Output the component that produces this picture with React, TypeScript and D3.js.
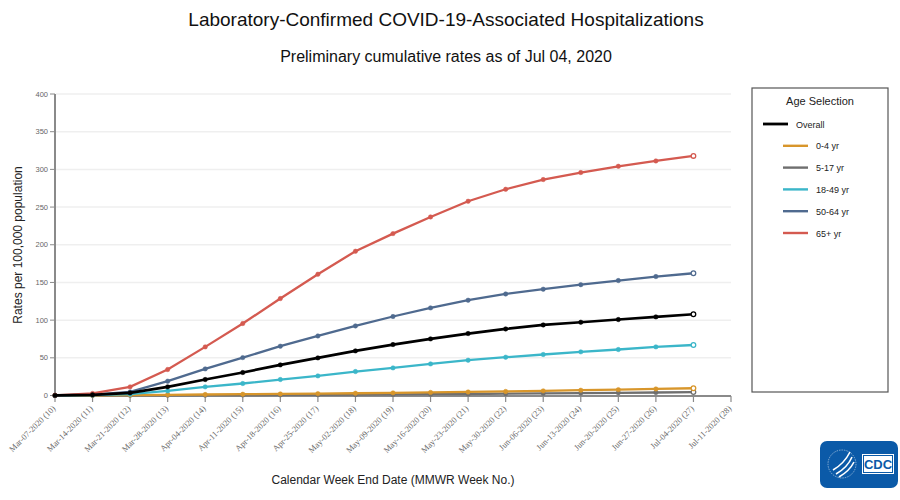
import React from "react";
import * as d3 from "d3";

const weekLabels = [
  "Mar-07-2020 (10)", "Mar-14-2020 (11)", "Mar-21-2020 (12)", "Mar-28-2020 (13)",
  "Apr-04-2020 (14)", "Apr-11-2020 (15)", "Apr-18-2020 (16)", "Apr-25-2020 (17)",
  "May-02-2020 (18)", "May-09-2020 (19)", "May-16-2020 (20)", "May-23-2020 (21)",
  "May-30-2020 (22)", "Jun-06-2020 (23)", "Jun-13-2020 (24)", "Jun-20-2020 (25)",
  "Jun-27-2020 (26)", "Jul-04-2020 (27)", "Jul-11-2020 (28)",
];

const overall = [0.1, 0.9, 3.5, 11.5, 21.2, 30.5, 40.6, 49.9, 59.2, 67.6, 75.1, 82.2, 88.3, 93.6, 97.2, 100.8, 104.3, 107.8];
const age0to4 = [0.0, 0.2, 0.5, 0.9, 1.3, 1.7, 2.1, 2.5, 3.0, 3.5, 4.1, 4.7, 5.4, 6.2, 7.0, 7.8, 8.7, 9.6];
const age5to17 = [0.0, 0.1, 0.2, 0.3, 0.4, 0.6, 0.8, 1.0, 1.2, 1.4, 1.7, 2.0, 2.4, 2.8, 3.2, 3.6, 4.0, 4.5];
const age18to49 = [0.0, 0.5, 1.7, 6.1, 11.5, 15.9, 21.2, 26.0, 31.8, 36.6, 41.9, 46.8, 50.8, 54.4, 57.9, 61.0, 64.5, 67.0];
const age50to64 = [0.1, 1.2, 4.8, 19.0, 35.3, 50.3, 65.4, 79.0, 92.3, 104.8, 116.2, 126.4, 134.7, 141.0, 147.0, 152.5, 157.8, 162.2];
const age65plus = [0.3, 2.7, 11.5, 34.5, 64.5, 95.5, 128.6, 160.9, 191.4, 214.8, 236.9, 257.7, 273.6, 286.5, 295.8, 304.1, 311.2, 317.8];

const yTicks = [0, 50, 100, 150, 200, 250, 300, 350, 400];

const seriesNames = ["Overall", "0-4 yr", "5-17 yr", "18-49 yr", "50-64 yr", "65+ yr"];
const seriesColors = ["#000000", "#d8962b", "#6f6f6f", "#3bb6c9", "#4f6a8f", "#d45a50"];
const seriesValues = [overall, age0to4, age5to17, age18to49, age50to64, age65plus];

export default function App() {
  const W = 900, H = 500;
  const x = d3.scaleLinear().domain([0, weekLabels.length - 1]).range([55, 731]);
  const y = d3.scaleLinear().domain([0, 400]).range([395.5, 94]);
  const line = d3.line<number>().x((_, i) => x(i)).y((d) => y(d));

  const drawOrder = [2, 1, 3, 4, 5, 0];

  return (
    <svg width={W} height={H} style={{ position: "absolute", left: 0, top: 0 }} fontFamily="Liberation Sans, Arial, sans-serif">
      <rect width={W} height={H} fill="#fff" />
      <text x={446} y={26} textAnchor="middle" fontSize={19} fill="#111">
        Laboratory-Confirmed COVID-19-Associated Hospitalizations
      </text>
      <text x={446} y={62} textAnchor="middle" fontSize={16} fill="#111">
        Preliminary cumulative rates as of Jul 04, 2020
      </text>

      {yTicks.filter((t) => t > 0).map((t) => (
        <line key={"g" + t} x1={56} x2={731} y1={y(t)} y2={y(t)} stroke="#efefef" strokeWidth={1.5} />
      ))}

      <line x1={55} x2={55} y1={y(400)} y2={y(0) + 1} stroke="#8a8a8a" strokeWidth={2} />
      {yTicks.map((t) => (
        <g key={"yt" + t}>
          <line x1={50} x2={55} y1={y(t)} y2={y(t)} stroke="#8a8a8a" strokeWidth={1} />
          <text x={48} y={y(t) + 2.5} textAnchor="end" fontSize={7.5} fill="#666">{t}</text>
        </g>
      ))}

      <line x1={55} x2={731} y1={396} y2={396} stroke="#8a8a8a" strokeWidth={2} />
      {weekLabels.map((lab, i) => (
        <g key={"xt" + i}>
          <line x1={x(i)} x2={x(i)} y1={396} y2={402} stroke="#8a8a8a" strokeWidth={1.2} />
          <text
            transform={`translate(${x(i) + 1},${409}) rotate(-45)`}
            textAnchor="end"
            fontSize={8.5}
            fontFamily="Liberation Serif, Times New Roman, serif"
            fill="#666"
          >
            {lab}
          </text>
        </g>
      ))}

      {drawOrder.map((si) => {
        const vals = seriesValues[si];
        const c = seriesColors[si];
        return (
          <g key={"s" + si}>
            <path d={line(vals) || ""} fill="none" stroke={c} strokeWidth={si === 0 ? 2.7 : 2.3} />
            {vals.map((v, i) => (
              <circle
                key={i}
                cx={x(i)}
                cy={y(v)}
                r={i === vals.length - 1 ? 2.3 : 2.2}
                fill={i === vals.length - 1 ? "#fff" : c}
                stroke={c}
                strokeWidth={i === vals.length - 1 ? 1.3 : 0.5}
              />
            ))}
          </g>
        );
      })}

      <text transform="translate(22,245) rotate(-90)" textAnchor="middle" fontSize={12} fill="#222">
        Rates per 100,000 population
      </text>
      <text x={393} y={484} textAnchor="middle" fontSize={12} fill="#222">
        Calendar Week End Date (MMWR Week No.)
      </text>

      <rect x={752} y={88} width={136} height={304} fill="#fff" stroke="#555" strokeWidth={1.2} />
      <text x={820} y={105} textAnchor="middle" fontSize={11} fill="#222">Age Selection</text>
      {seriesNames.map((n, i) => {
        const ly = 124 + i * 21.8;
        const x1 = i === 0 ? 763 : 783;
        return (
          <g key={"l" + i}>
            <line x1={x1} x2={x1 + 25} y1={ly} y2={ly} stroke={seriesColors[i]} strokeWidth={i === 0 ? 2.8 : 2.4} />
            <text x={x1 + 33} y={ly + 3.5} fontSize={9} fill="#222">{n}</text>
          </g>
        );
      })}

      <rect x={820} y={441} width={78} height={47} rx={7} fill="#0b5aa8" />
      <circle cx={842} cy={464} r={14} fill="none" stroke="#ffffff" strokeOpacity={0.6} strokeWidth={0.8} strokeDasharray="1.5 1" />
      <path d="M833,470 C840,466 846,460 850,452 M836,474 C843,470 849,464 852,457 M839,477 C846,473 851,468 854,462" stroke="#fff" strokeWidth={1.6} fill="none" />
      <rect x={862} y={454} width={32} height={20} fill="#fff" />
      <rect x={863.5} y={455.5} width={29} height={17} fill="none" stroke="#0b5aa8" strokeWidth={1} />
      <text x={878} y={469} textAnchor="middle" fontSize={13} fontWeight="bold" fill="#0b5aa8" fontFamily="Liberation Sans Narrow, Arial Narrow, sans-serif">CDC</text>
    </svg>
  );
}
